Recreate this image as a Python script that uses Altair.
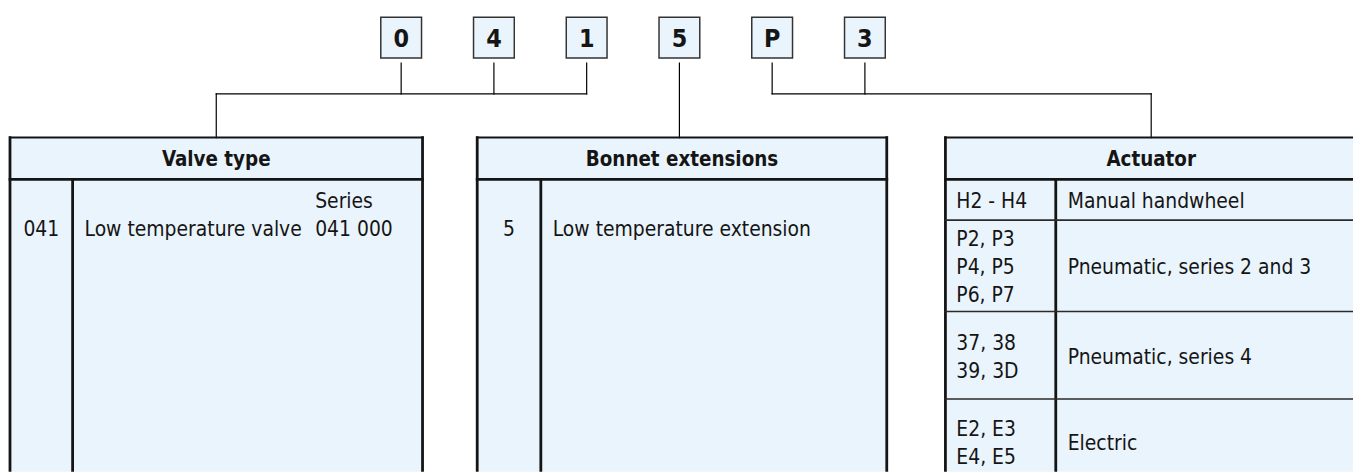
import altair as alt
import pandas as pd

# ---------------- data ----------------
CODE_CHARS = ["0", "4", "1", "5", "P", "3"]
CODE_GROUP = ["valve", "valve", "valve", "bonnet", "actuator", "actuator"]

TABLE_KEYS = ["valve", "bonnet", "actuator"]
TABLE_TITLES = ["Valve type", "Bonnet extensions", "Actuator"]

VALVE_CODES = ["041"]
VALVE_DESC = ["Low temperature valve"]
VALVE_SERIES = ["Series", "041 000"]

BONNET_CODES = ["5"]
BONNET_DESC = ["Low temperature extension"]

ACT_CODES = [["H2 - H4"], ["P2, P3", "P4, P5", "P6, P7"], ["37, 38", "39, 3D"], ["E2, E3", "E4, E5"]]
ACT_DESC = ["Manual handwheel", "Pneumatic, series 2 and 3", "Pneumatic, series 4", "Electric"]

# ---------------- layout ----------------
W, H, M = 1361, 473, 8
CODE_X0, CODE_PITCH, BOX = 403.5, 93.3, 41
BOX_TOP = 16
BUS_Y = 93
TABLE_TOP, HEADER_BOTTOM, BODY_BOTTOM = 137, 179, 486
TABLE_LEFT = [10, 480, 951]
TABLE_RIGHT = [425, 892, 1365]
TABLE_DIVIDER = [73, 544, 1062]
ACT_ROW_EDGES = [HEADER_BOTTOM, 220, 312, 400, BODY_BOTTOM]
LINE_H = 28
HALF_CAP = 8.5
FIRST_BASELINE = 236
PAD = 12
SERIES_X = 317

FILL = "#eaf4fc"
INK = "#141414"
FONT = "DejaVu Sans Condensed, Roboto, Liberation Sans, sans-serif"
FS = 21
FS_HEAD = 20.5
FS_CODE = 25

tables = {k: dict(l=l, r=r, d=d, title=t) for k, l, r, d, t in
          zip(TABLE_KEYS, TABLE_LEFT, TABLE_RIGHT, TABLE_DIVIDER, TABLE_TITLES)}

code_cx = [CODE_X0 + i * CODE_PITCH for i in range(len(CODE_CHARS))]

rects, rules = [], []
t_left, t_center, t_bold = [], [], []

# code boxes
for ch, cx in zip(CODE_CHARS, code_cx):
    rects.append(dict(x=cx - BOX / 2, x2=cx + BOX / 2, y=BOX_TOP, y2=BOX_TOP + BOX, fill=FILL, stroke="#333333", sw=1.5))
    t_bold.append(dict(x=cx, y=BOX_TOP + BOX / 2 + 9, text=ch, fs=FS_CODE))

# connectors
box_bottom = BOX_TOP + BOX + 5
for key in TABLE_KEYS:
    t = tables[key]
    tc = (t["l"] + t["r"]) / 2
    xs = [cx for cx, g in zip(code_cx, CODE_GROUP) if g == key]
    if len(xs) == 1:
        rules.append(dict(x=xs[0], x2=xs[0], y=box_bottom, y2=TABLE_TOP, sw=1.2, col="#000000"))
    else:
        for cx in xs:
            rules.append(dict(x=cx, x2=cx, y=box_bottom, y2=BUS_Y, sw=1.2, col="#000000"))
        rules.append(dict(x=min(xs + [tc]), x2=max(xs + [tc]), y=BUS_Y, y2=BUS_Y, sw=1.2, col="#000000"))
        rules.append(dict(x=tc, x2=tc, y=BUS_Y, y2=TABLE_TOP, sw=1.2, col="#000000"))

# tables
for key in TABLE_KEYS:
    t = tables[key]
    rects.append(dict(x=t["l"], x2=t["r"], y=TABLE_TOP, y2=BODY_BOTTOM, fill=FILL, stroke=FILL, sw=0))
    rules.append(dict(x=t["l"], x2=t["r"], y=TABLE_TOP, y2=TABLE_TOP, sw=2, col=INK))
    rules.append(dict(x=t["l"], x2=t["r"], y=HEADER_BOTTOM, y2=HEADER_BOTTOM, sw=2.8, col=INK))
    rules.append(dict(x=t["l"], x2=t["l"], y=TABLE_TOP, y2=BODY_BOTTOM, sw=2.8, col=INK))
    rules.append(dict(x=t["r"], x2=t["r"], y=TABLE_TOP, y2=BODY_BOTTOM, sw=2.8, col=INK))
    rules.append(dict(x=t["d"], x2=t["d"], y=HEADER_BOTTOM, y2=BODY_BOTTOM, sw=2.8, col=INK))
    t_bold.append(dict(x=(t["l"] + t["r"]) / 2, y=(TABLE_TOP + HEADER_BOTTOM) / 2 + 8, text=t["title"], fs=FS_HEAD))

# valve type content
tv = tables["valve"]
t_center.append(dict(x=(tv["l"] + tv["d"]) / 2, y=FIRST_BASELINE, text=VALVE_CODES[0], fs=FS))
t_left.append(dict(x=tv["d"] + PAD, y=FIRST_BASELINE, text=VALVE_DESC[0], fs=FS))
t_left.append(dict(x=SERIES_X, y=FIRST_BASELINE - LINE_H, text=VALVE_SERIES[0], fs=FS))
t_left.append(dict(x=SERIES_X, y=FIRST_BASELINE, text=VALVE_SERIES[1], fs=FS))

# bonnet content
tb = tables["bonnet"]
t_center.append(dict(x=(tb["l"] + tb["d"]) / 2, y=FIRST_BASELINE, text=BONNET_CODES[0], fs=FS))
t_left.append(dict(x=tb["d"] + PAD, y=FIRST_BASELINE, text=BONNET_DESC[0], fs=FS))

# actuator content
ta = tables["actuator"]
for i, (codes, desc) in enumerate(zip(ACT_CODES, ACT_DESC)):
    top, bot = ACT_ROW_EDGES[i], ACT_ROW_EDGES[i + 1]
    cm = (top + bot) / 2
    n = len(codes)
    for j, c in enumerate(codes):
        t_left.append(dict(x=ta["l"] + PAD - 1, y=cm + (j - (n - 1) / 2) * LINE_H + HALF_CAP, text=c, fs=FS))
    t_left.append(dict(x=ta["d"] + PAD, y=cm + HALF_CAP, text=desc, fs=FS))
    if i > 0:
        rules.append(dict(x=ta["l"], x2=ta["r"], y=top, y2=top, sw=1.6, col="#2a2a2a"))

# ---------------- chart ----------------
xs = alt.Scale(domain=[M, W], range=[0, W - M])
ys = alt.Scale(domain=[M, H], range=[0, H - M])


def X(f="x"):
    return alt.X(f"{f}:Q", scale=xs, axis=None)


def Y(f="y"):
    return alt.Y(f"{f}:Q", scale=ys, axis=None)


rect_layer = alt.Chart(pd.DataFrame(rects)).mark_rect(clip=True).encode(
    x=X(), x2="x2:Q", y=Y(), y2="y2:Q",
    fill=alt.Fill("fill:N", scale=None),
    stroke=alt.Stroke("stroke:N", scale=None),
    strokeWidth=alt.StrokeWidth("sw:Q", scale=None),
)

rule_layer = alt.Chart(pd.DataFrame(rules)).mark_rule(strokeCap="square", clip=True).encode(
    x=X(), x2="x2:Q", y=Y(), y2="y2:Q",
    color=alt.Color("col:N", scale=None),
    strokeWidth=alt.StrokeWidth("sw:Q", scale=None),
)


def text_layer(rows, align, weight):
    return alt.Chart(pd.DataFrame(rows)).mark_text(
        font=FONT, align=align, baseline="alphabetic", fontWeight=weight, color="#151515"
    ).encode(
        x=X(), y=Y(), text="text:N", size=alt.Size("fs:Q", scale=None)
    )


chart = alt.layer(
    rect_layer,
    rule_layer,
    text_layer(t_left, "left", "normal"),
    text_layer(t_center, "center", "normal"),
    text_layer(t_bold, "center", "bold"),
).properties(
    width=W - M, height=H - M, padding=0, autosize=alt.AutoSizeParams(type="none"), background="white"
).configure_view(stroke=None)

chart.save("out.html", embed_options={"renderer": "svg", "actions": False})
